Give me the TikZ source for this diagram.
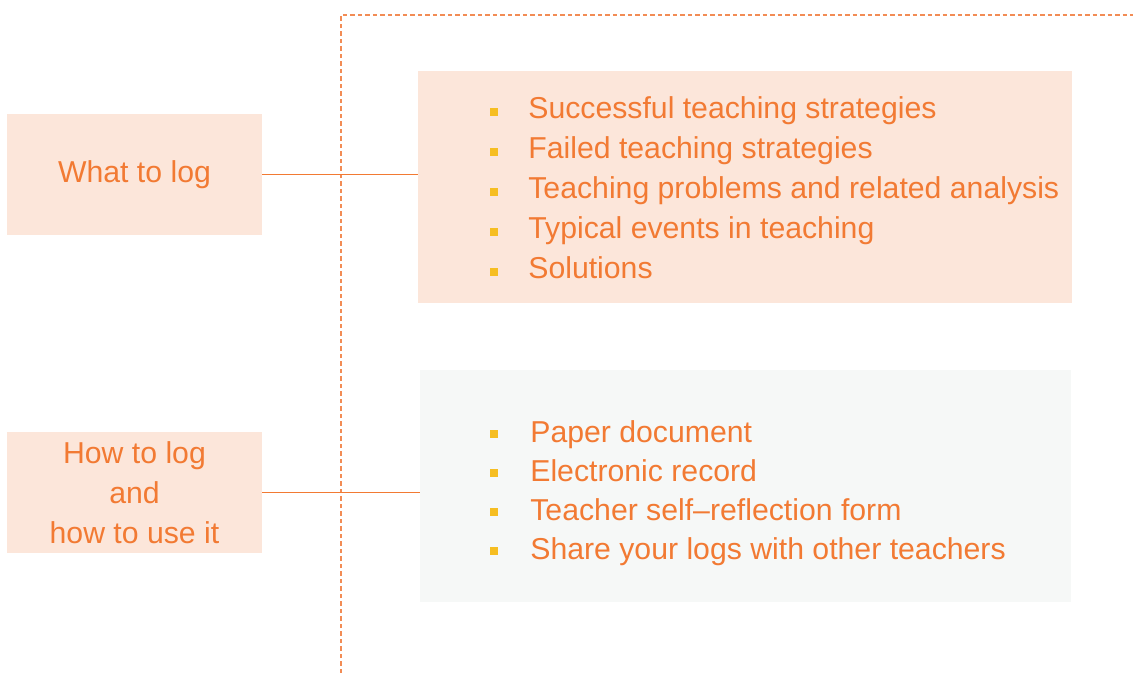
\documentclass[tikz,border=0pt]{standalone}
\usepackage{fontspec}
\setmainfont{Liberation Sans}
\usepackage{xcolor}
\usetikzlibrary{positioning, calc}

\definecolor{logorange}{HTML}{F27A33}
\definecolor{dashorange}{HTML}{F28C55}
\definecolor{peach}{HTML}{FCE6DA}
\definecolor{paleglass}{HTML}{F6F8F7}
\definecolor{bulletyellow}{HTML}{F6BE22}

\begin{document}
\begin{tikzpicture}[x=0.02cm, y=-0.02cm,
    lbox/.style={fill=peach, text=logorange, minimum width=5.1cm, minimum height=2.42cm,
        align=center, inner sep=0pt, font=\fontsize{17.2}{22.7}\selectfont},
    rbox/.style={minimum height=4.64cm, inner sep=0pt},
    item/.style={text=logorange, anchor=base west, inner sep=0pt, font=\fontsize{17.2}{20}\selectfont},
    dot/.style={fill=bulletyellow, minimum size=0.17cm, inner sep=0pt},
    link/.style={draw=logorange, line width=0.7pt},
    frame/.style={draw=dashorange, line width=0.9pt, dash pattern=on 0.09cm off 0.06cm}]
    \useasboundingbox (0,0) rectangle (1133,673);

    % Dashed frame behind everything
    \coordinate (fbot) at (341,673);
    \coordinate (ftop) at (341,15);
    \coordinate (fend) at (1133,15);
    \draw[frame] (fbot) -- (ftop) -- (fend);

    % Right hand panels
    \node[rbox, fill=peach, minimum width=13.08cm] (whatlist) at (745,187) {};
    \node[rbox, fill=paleglass, minimum width=13.02cm] (howlist) at (745.5,486) {};

    % Left hand labels
    \node[lbox] (what) at (134.5,174.5) {\raisebox{-2pt}{What to log}};
    \node[lbox] (how) at (134.5,492.5) {How to log\\and\\how to use it};

    % Links
    \draw[link] (what.east) -- (what.east -| whatlist.west);
    \draw[link] (how.east) -- (how.east -| howlist.west);

    % What to log - items
    \foreach \i/\t in {
        1/Successful teaching strategies,
        2/Failed teaching strategies,
        3/Teaching problems and related analysis,
        4/Typical events in teaching,
        5/Solutions
    } {
        \node[item] (w\i) at (528,{78+40*\i}) {\t};
        \node[dot] (wb\i) at (494,{72+40*\i}) {};
    }

    % How to log - items
    \foreach \i/\t in {
        1/Paper document,
        2/Electronic record,
        3/Teacher self--reflection form,
        4/Share your logs with other teachers
    } {
        \node[item] (h\i) at (530,{403+39*\i}) {\t};
        \node[dot] (hb\i) at (494,{395+39*\i}) {};
    }
\end{tikzpicture}
\end{document}
